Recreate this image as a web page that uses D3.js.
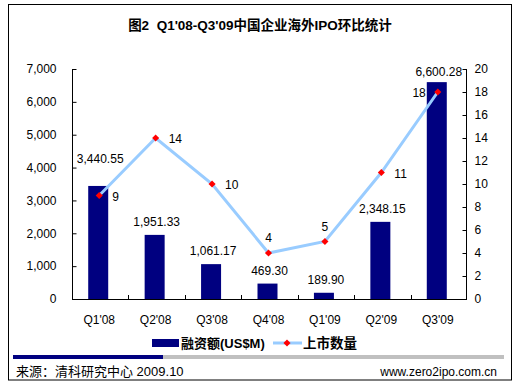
<!DOCTYPE html>
<html><head><meta charset="utf-8">
<script src="https://cdn.jsdelivr.net/npm/d3@7"></script>
<style>
body{margin:0;background:#fff;}
svg{display:block;}
text{font-family:"Liberation Sans",Arial,"Noto Sans CJK SC",sans-serif;white-space:pre;}
.cjk{font-family:"Liberation Sans","Noto Sans CJK SC",sans-serif;}
</style></head>
<body>
<script>
const categories = ["Q1'08","Q2'08","Q3'08","Q4'08","Q1'09","Q2'09","Q3'09"];
const amounts = [3440.55, 1951.33, 1061.17, 469.30, 189.90, 2348.15, 6600.28];
const counts = [9, 14, 10, 4, 5, 11, 18];
const leftTicks = [0,1000,2000,3000,4000,5000,6000,7000];
const rightTicks = [0,2,4,6,8,10,12,14,16,18,20];
const countLabelSide = ["right","right","right","above","above","right","left"];
const barLabelShift = [-14,0,0,0,0,0,3];

(function(){
const W=520,H=385;
const svg=d3.select("body").append("svg").attr("width",W).attr("height",H);
svg.append("rect").attr("x",8.5).attr("y",4.5).attr("width",503).attr("height",375.5)
  .attr("fill","#fff").attr("stroke","#000").attr("stroke-width",1);

svg.append("text").attr("x",260).attr("y",30).attr("text-anchor","middle")
  .attr("font-weight","bold").attr("font-size",13.5).attr("class","cjk")
  .attr("xml:space","preserve")
  .text("图2  Q1'08-Q3'09中国企业海外IPO环比统计");

const pL=72,pR=467,pT=69,pB=299;
const x=d3.scaleBand().domain(categories).range([pL,pR]);
const yL=d3.scaleLinear().domain([0,7000]).range([pB,pT]);
const yR=d3.scaleLinear().domain([0,20]).range([pB,pT]);

// axes
const gL=svg.append("g").attr("transform",`translate(${pL+0.5},0)`)
  .call(d3.axisLeft(yL).tickValues(leftTicks).tickSize(-4).tickPadding(16).tickFormat(d3.format(",")));
const gR=svg.append("g").attr("transform",`translate(${pR-0.5},0)`)
  .call(d3.axisRight(yR).tickValues(rightTicks).tickSize(-4).tickPadding(8));
[gL,gR].forEach(g=>{
  g.select(".domain").attr("stroke","#000");
  g.selectAll(".tick line").attr("stroke","#000");
  g.selectAll(".tick text").attr("font-size",12).attr("fill","#000")
   .attr("font-family","Liberation Sans, Arial, sans-serif");
});
gL.select(".domain").attr("d",`M0,${pT}V${pB}`);
gR.select(".domain").attr("d",`M0,${pT}V${pB}`);

// x axis
const gx=svg.append("g");
gx.append("line").attr("x1",pL).attr("x2",pR).attr("y1",pB+0.5).attr("y2",pB+0.5).attr("stroke","#000");
categories.slice(1).forEach(c=>{
  const xx=Math.round(x(c))+0.5;
  gx.append("line").attr("x1",xx).attr("x2",xx).attr("y1",pB).attr("y2",pB-4).attr("stroke","#000");
});
gx.selectAll("text.xl").data(categories).join("text").attr("class","xl")
  .attr("x",d=>x(d)+x.bandwidth()/2-1).attr("y",324).attr("text-anchor","middle")
  .attr("font-size",12).text(d=>d);

// bars
const bw=20;
svg.selectAll("rect.bar").data(amounts).join("rect").attr("class","bar")
  .attr("x",(d,i)=>x(categories[i])+x.bandwidth()/2-bw/2-2)
  .attr("width",bw)
  .attr("y",d=>yL(d)).attr("height",d=>pB-yL(d)).attr("fill","#000080");
svg.selectAll("text.bl").data(amounts).join("text").attr("class","bl")
  .attr("x",(d,i)=>x(categories[i])+x.bandwidth()/2)
  .attr("y",(d,i)=>yL(d)-9+barLabelShift[i]).attr("text-anchor","middle")
  .attr("font-size",12).text(d=>d3.format(",.2f")(d));

// line
const cx=(i)=>x(categories[i])+x.bandwidth()/2-1;
const line=d3.line().x((d,i)=>cx(i)).y(d=>yR(d));
svg.append("path").datum(counts).attr("d",line).attr("fill","none")
  .attr("stroke","#99CCFF").attr("stroke-width",3);
const diamond=d3.symbol().type(d3.symbolDiamond2).size(32);
svg.selectAll("path.mk").data(counts).join("path").attr("class","mk")
  .attr("transform",(d,i)=>`translate(${cx(i)},${yR(d)})`).attr("d",diamond).attr("fill","#FF0000");
svg.selectAll("text.cl").data(counts).join("text").attr("class","cl")
  .attr("x",(d,i)=>{const s=countLabelSide[i];return cx(i)+(s==="right"?13:s==="left"?-12:0);})
  .attr("y",(d,i)=>yR(d)+(countLabelSide[i]==="above"?-11:5))
  .attr("text-anchor",(d,i)=>{const s=countLabelSide[i];return s==="right"?"start":s==="left"?"end":"middle";})
  .attr("font-size",12).text(d=>d);

// legend
svg.append("rect").attr("x",152).attr("y",339).attr("width",27).attr("height",8).attr("fill","#000080");
svg.append("text").attr("x",181).attr("y",348).attr("font-size",13).attr("font-weight","bold").attr("class","cjk").text("融资额(US$M)");
svg.append("line").attr("x1",273).attr("x2",302).attr("y1",343).attr("y2",343).attr("stroke","#99CCFF").attr("stroke-width",3);
svg.append("path").attr("transform","translate(287,343)").attr("d",diamond).attr("fill","#FF0000");
svg.append("text").attr("x",303).attr("y",348).attr("font-size",13.5).attr("font-weight","bold").attr("class","cjk").text("上市数量");

// separator
svg.append("rect").attr("x",13).attr("y",355).attr("width",150).attr("height",4).attr("fill","#000080");
svg.append("rect").attr("x",163).attr("y",355).attr("width",341).attr("height",4).attr("fill","#C0C0C0");

svg.append("text").attr("x",16).attr("y",376).attr("font-size",13).attr("class","cjk").text("来源：清科研究中心 2009.10");
svg.append("text").attr("x",497).attr("y",376).attr("font-size",12).attr("text-anchor","end").text("www.zero2ipo.com.cn");
})();
</script>
</body></html>
